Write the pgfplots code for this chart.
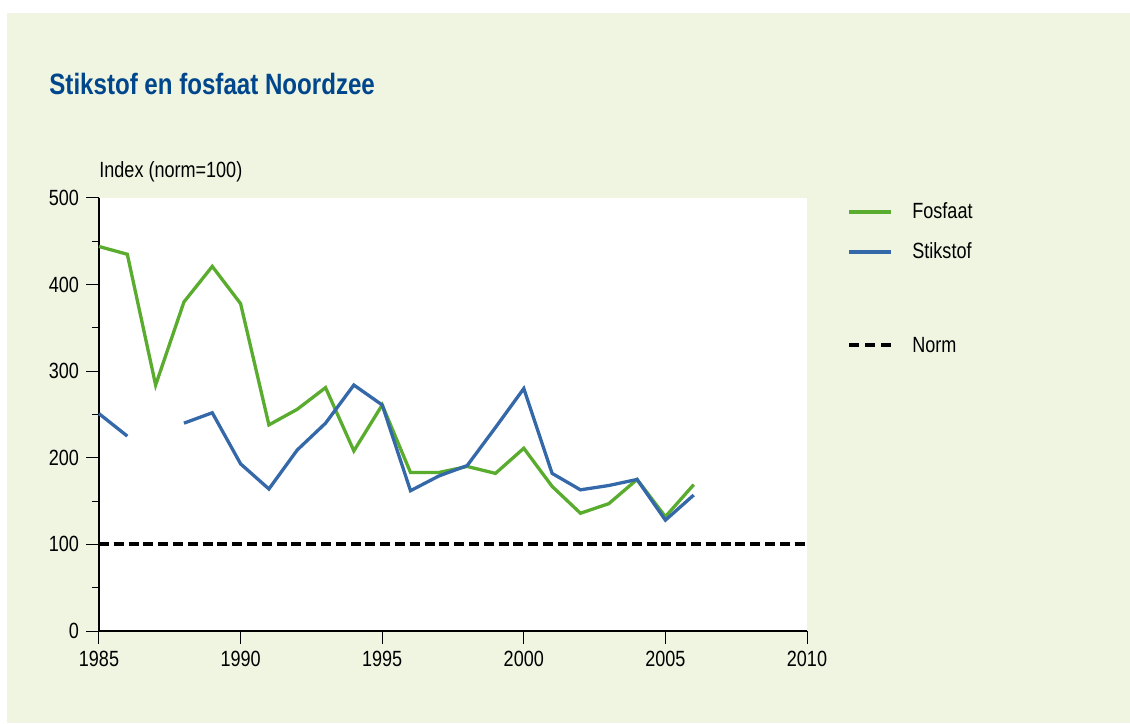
\documentclass[border=0pt]{standalone}
\usepackage{pgfplots}
\pgfplotsset{compat=1.18}
\usepackage{fontspec}
\setmainfont{Liberation Sans}[FakeStretch=0.82]

\definecolor{panelbg}{RGB}{240,245,226}
\definecolor{fosgreen}{RGB}{90,172,46}
\definecolor{stikblue}{RGB}{52,104,168}
\definecolor{titleblue}{RGB}{0,70,140}

% Index values (norm = 100)
\pgfplotstableread{
jaar fosfaat
1985 444
1986 435
1987 284
1988 380
1989 421
1990 378
1991 238
1992 256
1993 281
1994 208
1995 261
1996 183
1997 183
1998 190
1999 182
2000 211
2001 167
2002 136
2003 147
2004 175
2005 132
2006 169
}\fosfaat

\pgfplotstableread{
jaar stikstof
1985 251
1986 225
1987 nan
1988 240
1989 252
1990 193
1991 164
1992 209
1993 240
1994 284
1995 261
1996 162
1997 179
1998 191
1999 235
2000 280
2001 182
2002 163
2003 168
2004 175
2005 128
2006 157
}\stikstof

\begin{document}
\begin{tikzpicture}[x=1pt,y=1pt]
% panel
\fill[white] (-49.5,-46) rectangle (515.5,315.5);
\fill[panelbg] (-46,-46) rectangle (515.5,309);

\begin{axis}[
  at={(0,0)}, anchor=south west,
  scale only axis, width=354pt, height=216.5pt,
  xmin=1985, xmax=2010, ymin=0, ymax=500,
  axis x line*=bottom, axis y line*=left,
  axis line style={-, black, line width=0.7pt},
  axis background/.style={fill=white},
  xtick={1985,1990,...,2010},
  ytick={0,100,...,500},
  minor y tick num=1,
  tick align=outside,
  major tick length=6.5pt,
  minor tick length=3.5pt,
  every tick/.style={black, line width=0.5pt},
  ticklabel style={font=\fontsize{11}{13}\selectfont},
  /pgf/number format/assume math mode=true,
  /pgf/number format/1000 sep={},
  ylabel={Index (norm=100)},
  ylabel style={rotate=-90, at={(axis description cs:0,1)}, anchor=base west,
    yshift=10pt, inner sep=0pt, font=\fontsize{11}{13}\selectfont},
  unbounded coords=jump,
  clip=false,
]
\addplot[fosgreen, line width=1.65pt] table[x=jaar, y=fosfaat] {\fosfaat};
\addplot[stikblue, line width=1.65pt] table[x=jaar, y=stikstof] {\stikstof};
\addplot[black, line width=2pt, dash pattern=on 5pt off 2.4pt] coordinates {(1985,100) (2010,100)};
\end{axis}

% title
\node[anchor=base west, inner sep=0pt, text=titleblue,
  font=\fontsize{14.7}{17}\selectfont\bfseries] at (-25,268.3) {Stikstof en fosfaat Noordzee};

% legend
\begin{scope}[font=\fontsize{11}{13}\selectfont]
\draw[fosgreen, line width=1.65pt] (375,209.5) -- (396,209.5);
\node[anchor=base west, inner sep=0pt] at (406.5,206) {Fosfaat};
\draw[stikblue, line width=1.65pt] (375,189.5) -- (396,189.5);
\node[anchor=base west, inner sep=0pt] at (406.5,186) {Stikstof};
\draw[black, line width=2pt, dash pattern=on 5pt off 3pt] (375,143) -- (396,143);
\node[anchor=base west, inner sep=0pt] at (406.5,139) {Norm};
\end{scope}
\end{tikzpicture}
\end{document}
